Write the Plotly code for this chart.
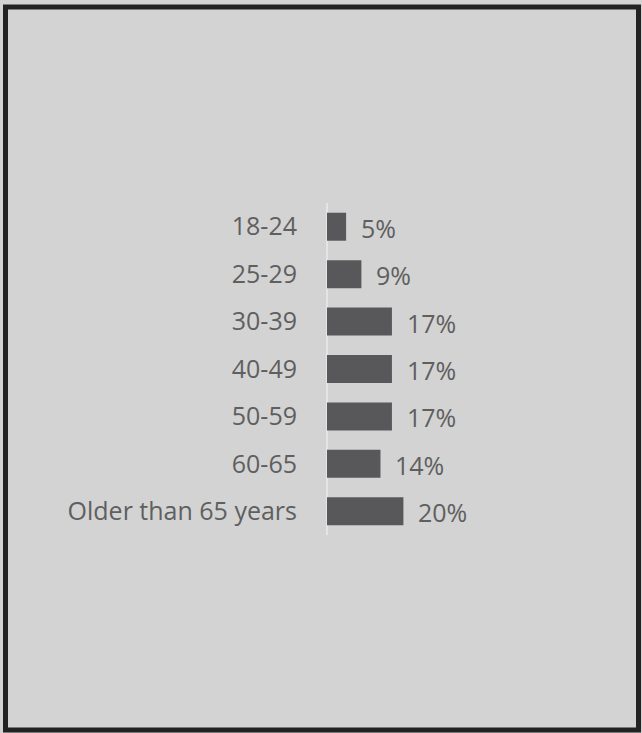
import plotly.graph_objects as go

categories = ["18-24", "25-29", "30-39", "40-49", "50-59", "60-65", "Older than 65 years"]
values = [5, 9, 17, 17, 17, 14, 20]
labels = ["5%", "9%", "17%", "17%", "17%", "14%", "20%"]

W, H = 642, 733
ML, MR, MT, MB = 327, 42, 203, 198
PW = W - ML - MR
PH = H - MT - MB
PX_PER_UNIT = 3.82

BG = "#d3d3d3"
BAR = "#58585a"
TXT = "#5f5f5f"
FONT = "Segoe UI, Open Sans, Noto Sans, sans-serif"
FS = 25

fig = go.Figure(go.Bar(
    x=values, y=categories, orientation="h",
    marker=dict(color=BAR, line=dict(width=0)),
    width=0.59,
    hoverinfo="skip",
))

for c, v, t in zip(categories, values, labels):
    fig.add_annotation(x=v, y=c, text=t, showarrow=False, xanchor="left",
                       xshift=13, yshift=-1, font=dict(size=FS, color=TXT, family=FONT))

def px2x(px):
    return (px - ML) / PW

def py2y(py):
    return (H - MB - py) / PH

fig.add_shape(type="rect", xref="paper", yref="paper",
              x0=px2x(5.5), x1=px2x(638.5), y0=py2y(730), y1=py2y(7),
              line=dict(color="#222222", width=5), fillcolor="rgba(0,0,0,0)", layer="below")

fig.update_layout(
    width=W, height=H,
    margin=dict(l=ML, r=MR, t=MT, b=MB, pad=0),
    paper_bgcolor=BG, plot_bgcolor=BG,
    showlegend=False,
    font=dict(family=FONT, size=FS, color=TXT),
    xaxis=dict(range=[0, PW / PX_PER_UNIT], showgrid=False, showticklabels=False,
               zeroline=True, zerolinecolor="#e4e4e4", zerolinewidth=2, fixedrange=True),
    yaxis=dict(categoryorder="array", categoryarray=categories, autorange="reversed",
               showgrid=False, ticks="", ticklabelstandoff=29,
               tickfont=dict(size=FS, color=TXT, family=FONT), fixedrange=True),
)

fig.write_html("out.html", config={"displayModeBar": False},
               post_script="document.body.style.margin='0';document.body.style.overflow='hidden';")
